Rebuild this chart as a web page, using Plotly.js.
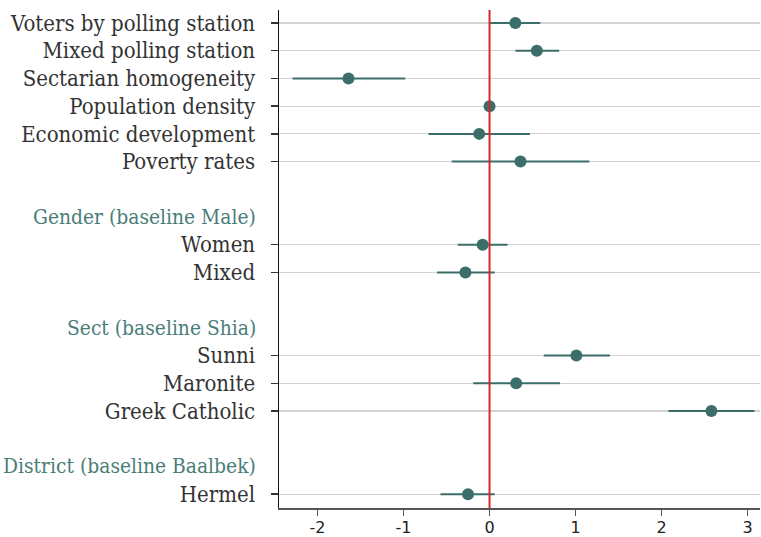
<!DOCTYPE html>
<html>
<head>
<meta charset="utf-8">
<script src="https://cdn.plot.ly/plotly-3.0.1.min.js"></script>
<style>html,body{margin:0;padding:0;background:#fff;}#chart{width:761px;height:537px;}</style>
</head>
<body>
<div id="chart"></div>
<script>
// Row layout of the coefficient plot (headers are group titles, "" = spacer)
const rowLabels = [
  "Voters by polling station", "Mixed polling station", "Sectarian homogeneity",
  "Population density", "Economic development", "Poverty rates",
  "", "Gender (baseline Male)", "Women", "Mixed",
  "", "Sect (baseline Shia)", "Sunni", "Maronite", "Greek Catholic",
  "", "District (baseline Baalbek)", "Hermel"
];
const headerLabels = ["Gender (baseline Male)", "Sect (baseline Shia)", "District (baseline Baalbek)"];

// Estimates (point, lower CI, upper CI) for each variable row
const varLabels = [
  "Voters by polling station", "Mixed polling station", "Sectarian homogeneity",
  "Population density", "Economic development", "Poverty rates",
  "Women", "Mixed", "Sunni", "Maronite", "Greek Catholic", "Hermel"
];
const coef  = [0.30, 0.55, -1.64, 0.00, -0.12, 0.36, -0.08, -0.28, 1.01, 0.31, 2.58, -0.25];
const lower = [0.00, 0.30, -2.29, -0.02, -0.71, -0.44, -0.37, -0.61, 0.63, -0.19, 2.08, -0.57];
const upper = [0.59, 0.81, -0.98, 0.02, 0.47, 1.16, 0.21, 0.06, 1.40, 0.82, 3.08, 0.06];

const xTickVals = [-2, -1, 0, 1, 2, 3];

const yPos = varLabels.map(l => rowLabels.indexOf(l));

const teal = "#3b6e69";
const fam = "DejaVu Serif Condensed, DejaVu Serif, serif";
const labelFont = {family: fam, size: 22, color: "#333333"};

const trace = {
  type: "scatter",
  mode: "markers",
  x: coef,
  y: yPos,
  marker: {color: teal, size: 12},
  error_x: {
    type: "data", symmetric: false,
    array: upper.map((u, i) => u - coef[i]),
    arrayminus: coef.map((c, i) => c - lower[i]),
    color: teal, thickness: 2, width: 0
  },
  hoverinfo: "x+text",
  text: varLabels
};

const annotations = headerLabels.map(h => ({
  xref: "paper", yref: "y", x: 0, y: rowLabels.indexOf(h),
  xanchor: "right", yanchor: "middle", xshift: -21,
  text: h, showarrow: false,
  font: {family: fam, size: 20.8, color: "#4a7d77"}
}));

const layout = {
  width: 761, height: 537,
  margin: {l: 279, r: 1, t: 10, b: 29},
  paper_bgcolor: "#fff", plot_bgcolor: "#fff",
  showlegend: false,
  xaxis: {
    range: [-2.448, 3.145],
    tickvals: xTickVals,
    ticktext: xTickVals.map(String),
    showgrid: false, zeroline: false,
    showline: true, linecolor: "#555555", linewidth: 1.5,
    ticks: "outside", ticklen: 6, tickcolor: "#555555", tickwidth: 1.5,
    ticklabelstandoff: -2,
    tickfont: {family: "DejaVu Sans, sans-serif", size: 16, color: "#222222"}
  },
  yaxis: {
    range: [17.5, -0.47],
    tickvals: yPos,
    ticktext: varLabels,
    showgrid: true, gridcolor: "#d3d3d3", gridwidth: 1.2,
    zeroline: false,
    showline: true, linecolor: "#111111", linewidth: 1.5,
    ticks: "outside", ticklen: 7, tickcolor: "#333333", tickwidth: 1.5,
    ticklabelstandoff: 11,
    tickfont: labelFont
  },
  shapes: [{
    type: "line", xref: "x", yref: "paper", x0: 0, x1: 0, y0: 0, y1: 1,
    line: {color: "#d9262a", width: 2}
  }],
  annotations: annotations
};

Plotly.newPlot("chart", [trace], layout, {displayModeBar: false, staticPlot: true});
</script>
</body>
</html>
